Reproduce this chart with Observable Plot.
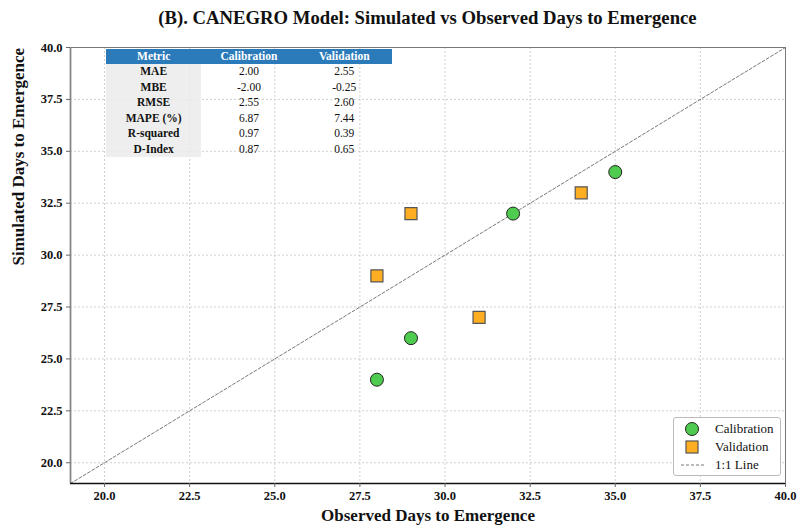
<!DOCTYPE html>
<html><head><meta charset="utf-8">
<script src="https://cdn.jsdelivr.net/npm/d3@7"></script>
<script src="https://cdn.jsdelivr.net/npm/@observablehq/plot@0.6"></script>
<style>
body{margin:0;background:#fff;font-family:"Liberation Serif",serif;}
#wrap{position:relative;width:798px;height:531px;}
#title{position:absolute;left:0;top:7px;width:855px;text-align:center;font-weight:bold;font-size:18.7px;color:#111;font-family:"Liberation Serif",serif;}
#chart{position:absolute;left:0;top:40px;}
table.m{position:absolute;left:106px;top:49px;border-collapse:collapse;font-size:11.5px;font-family:"Liberation Serif",serif;color:#111;}
table.m td,table.m th{width:95.3px;height:15.5px;padding:0;text-align:center;line-height:15.5px;font-family:"Liberation Serif",serif;}
table.m th{background:#2b7bba;color:#fff;font-weight:bold;height:15px;line-height:15px;}
table.m td.k{background:rgba(235,235,235,0.85);font-weight:bold;}
#legend{position:absolute;left:673px;top:417px;width:106px;height:57px;border:1px solid #bbb;border-radius:3px;background:#fff;font-size:13px;font-family:"Liberation Serif",serif;color:#111;}
#legend div{position:absolute;left:0;height:18px;line-height:18px;}
#legend svg{position:absolute;left:4px;top:0;}
#legend span{position:absolute;left:41px;white-space:nowrap;}
</style></head>
<body><div id="wrap"><div id="title"></div><div id="chart"></div><table class="m" id="tbl"></table><div id="legend"></div></div>
<script>
const titleText = "(B). CANEGRO Model: Simulated vs Observed Days to Emergence";
const xLabel = "Observed Days to Emergence";
const yLabel = "Simulated Days to Emergence";
const calObserved = [28, 29, 32, 35];
const calSimulated = [24, 26, 32, 34];
const valObserved = [28, 29, 31, 34];
const valSimulated = [29, 32, 27, 33];
const oneToOne = [19, 40];
const ticks = [20, 22.5, 25, 27.5, 30, 32.5, 35, 37.5, 40];
const metrics = ["MAE", "MBE", "RMSE", "MAPE (%)", "R-squared", "D-Index"];
const calibrationStats = ["2.00", "-2.00", "2.55", "6.87", "0.97", "0.87"];
const validationStats = ["2.55", "-0.25", "2.60", "7.44", "0.39", "0.65"];
const tableHeader = ["Metric", "Calibration", "Validation"];
const seriesNames = ["Calibration", "Validation", "1:1 Line"];
const calColor = "#4fcb4f", valColor = "#ffae22";
const serif = "Liberation Serif";

document.getElementById("title").textContent = titleText;
const cal = calObserved.map((x, i) => ({x, y: calSimulated[i]}));
const val = valObserved.map((x, i) => ({x, y: valSimulated[i]}));
const line = oneToOne.map(v => ({x: v, y: v}));
const fmt = d => d.toFixed(1);

const chart = Plot.plot({
  width: 798, height: 491,
  marginTop: 7, marginLeft: 70, marginRight: 13, marginBottom: 48,
  style: {fontFamily: serif, background: "transparent", color: "#111"},
  x: {domain: [19, 40]},
  y: {domain: [19, 40]},
  marks: [
    Plot.gridX(ticks, {stroke: "#c4c4c4", strokeOpacity: 1, strokeDasharray: "2,2", strokeWidth: 0.8}),
    Plot.gridY(ticks, {stroke: "#c4c4c4", strokeOpacity: 1, strokeDasharray: "2,2", strokeWidth: 0.8}),
    Plot.line(line, {x: "x", y: "y", stroke: "#555", strokeWidth: 0.8, strokeDasharray: "3,2"}),
    Plot.dot(cal, {x: "x", y: "y", r: 6.5, fill: calColor, stroke: "#222", strokeWidth: 1}),
    Plot.dot(val, {x: "x", y: "y", symbol: "square", r: 6.8, fill: valColor, stroke: "#555", strokeWidth: 1.2}),
    Plot.frame({stroke: "#777", strokeWidth: 1}),
    Plot.ruleX([19], {stroke: "#888", strokeWidth: 1.8}),
    Plot.ruleY([19], {stroke: "#111", strokeWidth: 1.5}),
    Plot.axisX(ticks, {tickFormat: fmt, tickSize: 4, stroke: "#666", fontSize: 12.5, fontFamily: serif, fontWeight: "bold", label: null, tickPadding: 4}),
    Plot.axisY(ticks, {tickFormat: fmt, tickSize: 4, stroke: "#666", fontSize: 12.5, fontFamily: serif, fontWeight: "bold", label: null, tickPadding: 4}),
    Plot.text([xLabel], {frameAnchor: "bottom", dy: 37, fontSize: 17, fontFamily: serif, fontWeight: "bold", text: d => d}),
    Plot.text([yLabel], {frameAnchor: "left", dx: -52, rotate: -90, fontSize: 17, fontFamily: serif, fontWeight: "bold", text: d => d})
  ]
});
document.getElementById("chart").appendChild(chart);

const tbl = document.getElementById("tbl");
tbl.innerHTML = "<tr>" + tableHeader.map(h => `<th>${h}</th>`).join("") + "</tr>" +
  metrics.map((m, i) => `<tr><td class="k">${m}</td><td>${calibrationStats[i]}</td><td>${validationStats[i]}</td></tr>`).join("");

const lg = document.getElementById("legend");
const syms = [
  `<svg width="30" height="18"><circle cx="14" cy="9" r="6.5" fill="${calColor}" stroke="#222"/></svg>`,
  `<svg width="30" height="18"><rect x="8" y="3" width="12" height="12" fill="${valColor}" stroke="#555" stroke-width="1.2"/></svg>`,
  `<svg width="30" height="18"><line x1="3" x2="26" y1="9" y2="9" stroke="#555" stroke-width="0.8" stroke-dasharray="3,2"/></svg>`
];
seriesNames.forEach((n, i) => {
  const d = document.createElement("div");
  d.style.top = (2 + i * 18) + "px";
  d.innerHTML = syms[i] + `<span>${n}</span>`;
  lg.appendChild(d);
});
</script></body></html>
